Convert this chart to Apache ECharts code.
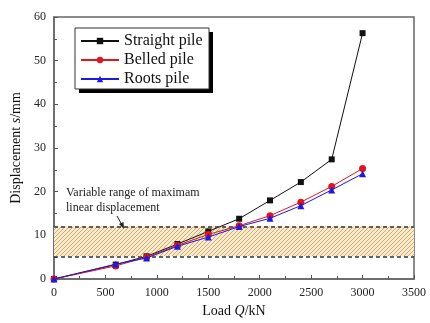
<!DOCTYPE html>
<html>
<head>
<meta charset="utf-8">
<script src="https://cdn.jsdelivr.net/npm/echarts@6/dist/echarts.min.js"></script>
<style>
  html, body { margin: 0; padding: 0; background: #fff; }
  #chart { width: 430px; height: 323px; }
</style>
</head>
<body>
<div id="chart"></div>
<script>
const loads = [0, 600, 900, 1200, 1500, 1800, 2100, 2400, 2700, 3000];
const straightPile = [0, 3.3, 5.2, 8.0, 10.9, 13.8, 18.0, 22.2, 27.4, 56.3];
const belledPile = [0, 3.0, 5.0, 7.7, 10.2, 12.2, 14.5, 17.6, 21.2, 25.3];
const rootsPile = [0, 3.4, 4.8, 7.5, 9.6, 12.0, 13.9, 16.8, 20.4, 24.1];
const bandRange = [5.2, 12];

const font = 'Liberation Serif';

// hatch pattern for the band
const hatch = document.createElement('canvas');
hatch.width = 4; hatch.height = 4;
const hc = hatch.getContext('2d');
hc.fillStyle = '#f7ebcf';
hc.fillRect(0, 0, 4, 4);
hc.strokeStyle = '#d5ac6c';
hc.lineWidth = 1;
hc.beginPath();
hc.moveTo(0, 4); hc.lineTo(4, 0);
hc.moveTo(-1, 1); hc.lineTo(1, -1);
hc.moveTo(3, 5); hc.lineTo(5, 3);
hc.stroke();

const pairs = (ys) => loads.map((x, i) => [x, ys[i]]);

const chart = echarts.init(document.getElementById('chart'));

chart.setOption({
  animation: false,
  grid: { left: 54, right: 16, top: 17, bottom: 39, show: true, borderColor: '#666', borderWidth: 1.5 },
  legend: {
    orient: 'vertical',
    left: 75, top: 31,
    padding: [2, 4, 2, 5],
    itemGap: 3,
    itemWidth: 38, itemHeight: 8,
    z: 10,
    textStyle: { fontFamily: font, fontSize: 16, color: '#111' },
    data: ['Straight pile', 'Belled pile', 'Roots pile']
  },
  xAxis: {
    type: 'value', min: 0, max: 3500, interval: 500,
    name: '{n|Load }{i|Q}{n|/kN}', nameLocation: 'middle', nameGap: 25,
    nameTextStyle: { rich: { n: { fontFamily: font, fontSize: 14, color: '#111' }, i: { fontFamily: font, fontSize: 14, fontStyle: 'italic', color: '#111' } } },
    axisLine: { lineStyle: { color: '#666', width: 1.5 } },
    axisTick: { inside: true, length: 4, lineStyle: { color: '#555' } },
    minorTick: { show: true, splitNumber: 2, length: 3, lineStyle: { color: '#555' } },
    axisLabel: { fontFamily: font, fontSize: 12, color: '#222', margin: 8, formatter: v => String(v) },
    splitLine: { show: false }
  },
  yAxis: {
    type: 'value', min: 0, max: 60, interval: 10,
    name: '{n|Displacement }{i|s}{n|/mm}', nameLocation: 'middle', nameGap: 28,
    nameTextStyle: { rich: { n: { fontFamily: font, fontSize: 14, color: '#111' }, i: { fontFamily: font, fontSize: 14, fontStyle: 'italic', color: '#111' } } },
    axisLine: { lineStyle: { color: '#666', width: 1.5 } },
    axisTick: { inside: true, length: 4, lineStyle: { color: '#555' } },
    minorTick: { show: true, splitNumber: 2, length: 3, lineStyle: { color: '#555' } },
    axisLabel: { fontFamily: font, fontSize: 12, color: '#222', margin: 8 },
    splitLine: { show: false }
  },
  graphic: [
    {
      type: 'rect', z: 8,
      shape: { x: 79, y: 32, width: 134, height: 61 },
      style: { fill: '#000' }
    },
    {
      type: 'rect', z: 9,
      shape: { x: 75, y: 28, width: 134, height: 61 },
      style: { fill: '#fff', stroke: '#333', lineWidth: 1 }
    },
    {
      type: 'text', left: 66, top: 185, z: 10,
      style: { text: 'Variable range of maximam\nlinear displacement', font: '12px "Liberation Serif"', fill: '#222', lineHeight: 15 }
    },
    {
      type: 'line', z: 10,
      shape: { x1: 117, y1: 216, x2: 122, y2: 225 },
      style: { stroke: '#222', lineWidth: 1 }
    },
    {
      type: 'polygon', z: 10,
      shape: { points: [[124, 229], [119, 224], [123.5, 222]] },
      style: { fill: '#222' }
    }
  ],
  series: [
    {
      name: 'Straight pile', type: 'line', data: pairs(straightPile),
      color: '#111', symbol: 'rect', symbolSize: 6, lineStyle: { width: 1 }, z: 4,
      markArea: {
        silent: true,
        itemStyle: { color: { image: hatch, repeat: 'repeat' } },
        data: [[{ yAxis: bandRange[0], xAxis: 0 }, { yAxis: bandRange[1], xAxis: 3500 }]]
      },
      markLine: {
        silent: true, symbol: 'none', label: { show: false },
        lineStyle: { type: [4, 3], color: '#333', width: 1.5 },
        data: bandRange.map(v => ({ yAxis: v }))
      }
    },
    {
      name: 'Belled pile', type: 'line', data: pairs(belledPile),
      color: '#e3141b', symbol: 'circle', symbolSize: 7, lineStyle: { width: 1 }, z: 5
    },
    {
      name: 'Roots pile', type: 'line', data: pairs(rootsPile),
      color: '#1a1ae0', symbol: 'triangle', symbolSize: 7, lineStyle: { width: 1 }, z: 6
    }
  ]
});
</script>
</body>
</html>
